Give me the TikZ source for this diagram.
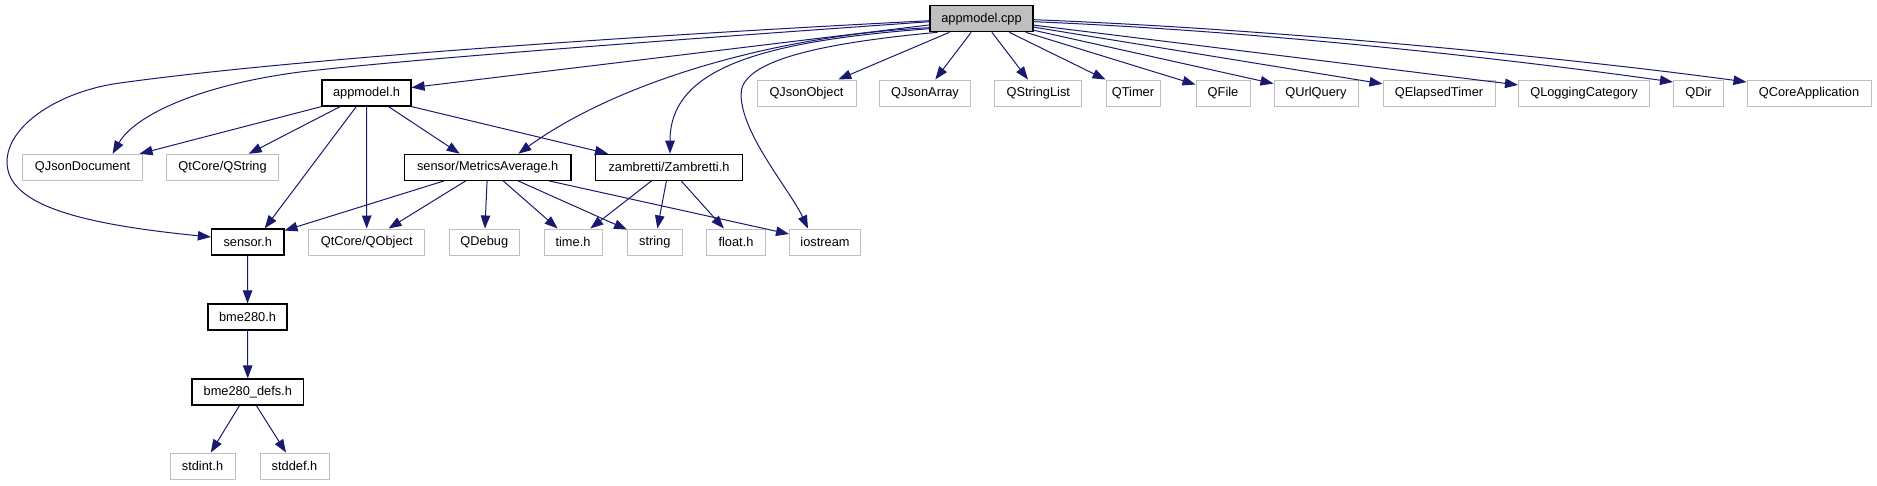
\documentclass[tikz,border=0pt]{standalone}
\usepackage{fontspec}
\setmainfont{Liberation Sans}
\usetikzlibrary{arrows.meta}
\definecolor{edgeblue}{RGB}{25,25,112}
\definecolor{extgray}{RGB}{191,191,191}
\begin{document}
\begin{tikzpicture}[x=1pt,y=-1pt,
  box/.style={rectangle, inner sep=0pt, minimum height=26pt, font=\fontsize{12.8}{14}\selectfont, text=black, line width=1pt, fill=white},
  ext/.style={box, draw=extgray},
  doc/.style={box, draw=black, line width=1.2pt},
  root/.style={box, draw=black, fill=extgray, line width=1.2pt},
  edge/.style={draw=edgeblue, line width=1pt, -{Triangle[length=13pt,width=9.5pt]}}
]
\fill[white] (0,0) rectangle (1877,485);
\useasboundingbox (0,0) rectangle (1877,485);

\node[root, minimum width=103pt] (cpp) at (981.5,18.7) {appmodel.cpp};
\node[doc, minimum width=89pt] (ah) at (366.5,93) {appmodel.h};
\node[ext, minimum width=99pt] (qjo) at (806.5,93) {QJsonObject};
\node[ext, minimum width=91pt] (qja) at (925,93) {QJsonArray};
\node[ext, minimum width=87pt] (qsl) at (1038.3,93) {QStringList};
\node[ext, minimum width=54pt] (qtm) at (1133,93) {QTimer};
\node[ext, minimum width=54pt] (qfl) at (1223,93) {QFile};
\node[ext, minimum width=84pt] (quq) at (1316,93) {QUrlQuery};
\node[ext, minimum width=112pt] (qet) at (1439,93) {QElapsedTimer};
\node[ext, minimum width=131pt] (qlc) at (1584,93) {QLoggingCategory};
\node[ext, minimum width=50pt] (qdr) at (1698.5,93) {QDir};
\node[ext, minimum width=124pt] (qca) at (1809,93) {QCoreApplication};
\node[ext, minimum width=120.5pt] (qjd) at (82.6,167.3) {QJsonDocument};
\node[ext, minimum width=112pt] (qst) at (222.6,167.3) {QtCore/QString};
\node[doc, minimum width=166.5pt] (ma) at (487.7,167.3) {sensor/MetricsAverage.h};
\node[doc, minimum width=146.5pt] (zb) at (669,167.3) {zambretti/Zambretti.h};
\node[doc, minimum width=72.5pt] (sn) at (247.7,242) {sensor.h};
\node[ext, minimum width=115.5pt] (qob) at (366.7,242) {QtCore/QObject};
\node[ext, minimum width=70.6pt] (qdb) at (484.3,242) {QDebug};
\node[ext, minimum width=58pt] (tm) at (573,242) {time.h};
\node[ext, minimum width=54.5pt] (str) at (654.8,242) {string};
\node[ext, minimum width=59pt] (fl) at (736,242) {float.h};
\node[ext, minimum width=71pt] (ios) at (825,242) {iostream};
\node[doc, minimum width=79pt] (bme) at (247.5,317) {bme280.h};
\node[doc, minimum width=111.6pt] (bmd) at (247.8,392) {bme280\_defs.h};
\node[ext, minimum width=65pt] (si) at (202.5,466) {stdint.h};
\node[ext, minimum width=69pt] (sd) at (294.5,466) {stddef.h};

% appmodel.cpp edges
\draw[edge] ([yshift=-2pt]cpp.west) .. controls (650,35) and (300,58) .. (120,83)
  .. controls (60,91) and (7,125) .. (7,162)
  .. controls (7,205) and (80,224) .. ([yshift=5pt]sn.west);
\draw[edge] ([yshift=-3pt]cpp.west) .. controls (700,38) and (420,58) .. (300,72)
  .. controls (200,85) and (135,115) .. ([xshift=30pt]qjd.north);
\draw[edge] (cpp) -- (ah);
\draw[edge] ([yshift=-9pt]cpp.west) .. controls (780,35) and (620,80) .. ([xshift=30.6pt]ma.north);
\draw[edge] ([yshift=-10pt]cpp.west) .. controls (750,42) and (670,72) .. ([xshift=1pt]zb.north);
\draw[edge] ([xshift=-44pt]cpp.south) .. controls (800,45) and (740,65) .. (741,95)
  .. controls (742,135) and (790,190) .. ([xshift=-17pt]ios.north);
\foreach \n in {qjo,qja,qsl,qtm,qfl,quq,qet,qlc} \draw[edge] (cpp) -- (\n);
\draw[edge] ([yshift=-3pt]cpp.east) .. controls (1280,32) and (1530,62) .. ([yshift=11pt]qdr.west);
\draw[edge] ([yshift=-1pt]cpp.east) .. controls (1300,30) and (1600,62) .. ([yshift=11pt]qca.west);

% appmodel.h edges
\draw[edge] (ah.south west) -- ([xshift=57pt]qjd.north);
\draw[edge] (ah) -- (qst);
\draw[edge] (ah) -- ([xshift=17pt]sn.north);
\draw[edge] (ah) -- (qob);
\draw[edge] ([xshift=22pt]ah.south) -- ([xshift=-28pt]ma.north);
\draw[edge] (ah.south east) -- ([xshift=-61pt]zb.north);

% MetricsAverage edges
\foreach \n in {sn,qob,qdb,tm,str,ios} \draw[edge] (ma) -- (\n);

% Zambretti edges
\draw[edge] (zb) -- (tm);
\draw[edge] (zb) -- (str);
\draw[edge] (zb) -- (fl);

% sensor chain
\draw[edge] (sn) -- (bme);
\draw[edge] (bme) -- (bmd);
\draw[edge] (bmd) -- (si);
\draw[edge] (bmd) -- (sd);
\end{tikzpicture}
\end{document}
